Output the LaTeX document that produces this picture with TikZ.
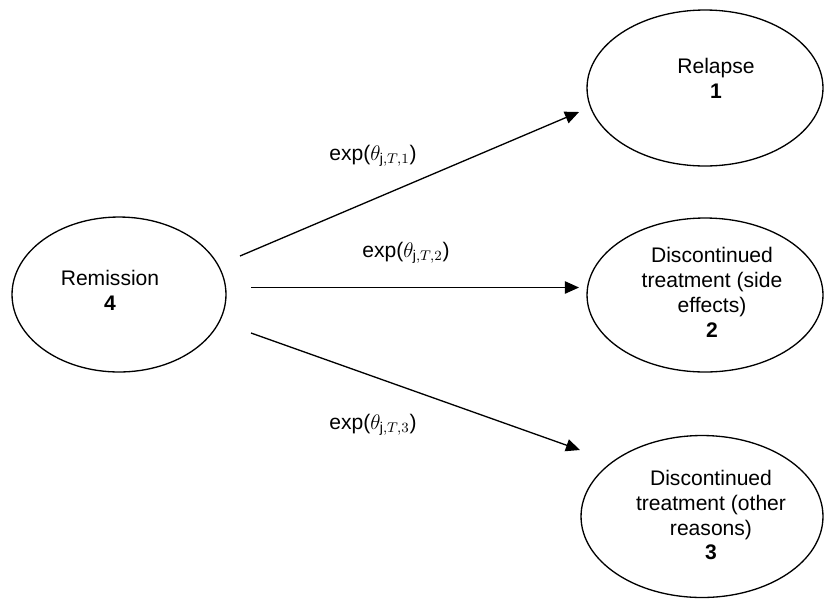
\documentclass[tikz,border=0pt]{standalone}
\usepackage{fontspec}
\setmainfont{Liberation Sans}
\usepackage{amsmath}
\usetikzlibrary{calc,positioning,shapes.geometric,arrows.meta}

\tikzset{
  state/.style={ellipse, draw, line width=0.75pt, inner sep=0pt},
  statetext/.style={align=center, font=\fontsize{12}{14.2}\selectfont},
  rate/.style={font=\fontsize{12}{14}\selectfont},
  trans/.style={line width=0.75pt, -{Triangle[length=8pt, width=7pt]}}
}

\begin{document}
\begin{tikzpicture}[x=0.02cm, y=-0.02cm]
  \useasboundingbox (0,0) rectangle (824,599);

  \node [state, minimum width=4.28cm, minimum height=3.1cm] at (119,294.5) (rem) {};
  \node [statetext] at (110,290) (remtxt) {Remission\\\textbf{4}};

  \node [state, minimum width=4.72cm, minimum height=3.12cm] at (705,88) (rel) {};
  \node [statetext] at (716,78) (reltxt) {Relapse\\\textbf{1}};

  \node [state, minimum width=4.72cm, minimum height=3.08cm] at (705,295) (side) {};
  \node [statetext] at (712,292.5) (sidetxt) {Discontinued\\treatment (side\\effects)\\\textbf{2}};

  \node [state, minimum width=4.84cm, minimum height=3.24cm] at (702,516.5) (oth) {};
  \node [statetext] at (711,515) (othtxt) {Discontinued\\treatment (other\\reasons)\\\textbf{3}};

  \coordinate (s1) at (240,256);
  \coordinate (t1) at (579,112);
  \coordinate (s2) at (251,287.5);
  \coordinate (t2) at (579,287.5);
  \coordinate (s3) at (251,333);
  \coordinate (t3) at (580,450);

  \draw [trans] (s1) -- (t1);
  \draw [trans] (s2) -- (t2);
  \draw [trans] (s3) -- (t3);

  \node [rate] at (373,156) (r1) {exp($\theta_{\mathrm{j},T,1}$)};
  \node [rate] at (406,253) (r2) {exp($\theta_{\mathrm{j},T,2}$)};
  \node [rate] at (373,425) (r3) {exp($\theta_{\mathrm{j},T,3}$)};
\end{tikzpicture}
\end{document}
